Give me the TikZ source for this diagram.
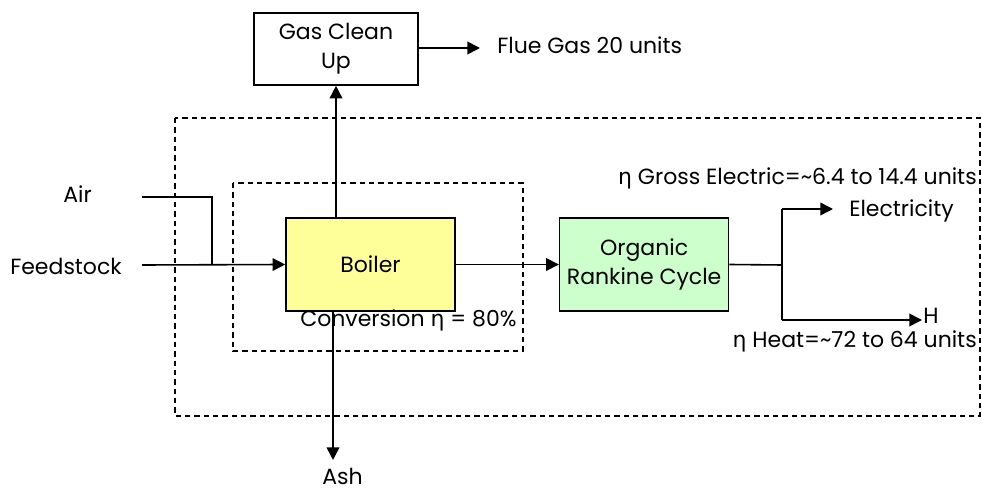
\documentclass[tikz,border=0pt]{standalone}
\usepackage{fontspec}
\setmainfont{Poppins}
\newfontfamily\grk{DejaVu Sans}
\usetikzlibrary{arrows.meta, positioning}

\newcommand{\effsym}{{\grk η}}

\begin{document}
\begin{tikzpicture}[
    x=0.75pt, y=-0.75pt,
    node distance=12pt,
    every node/.style={font=\fontsize{16.5}{22}\selectfont},
    unit/.style={
        draw=black,
        line width=1.2pt,
        align=center,
        minimum width=126.75pt,
        minimum height=69.75pt,
        inner sep=2pt
    },
    lbl/.style={
        inner sep=0pt
    },
    arrow/.style={
        -{Triangle[length=9.5pt,width=9.5pt]},
        line width=1.2pt
    },
    link/.style={
        line width=1.2pt
    },
    region/.style={
        dashed,
        dash pattern=on 4pt off 3pt,
        line width=0.9pt
    }
]
\useasboundingbox (0,0) rectangle (982,491);

% Regions
\draw [region] (175,118) rectangle (980,416);
\draw [region] (233,183) rectangle (523,351);

% Nodes
\node (boiler) [unit, fill={rgb,255:red,255;green,255;blue,153}] at (370.5,264.5) {Boiler};
\node (orc) [unit, fill={rgb,255:red,204;green,255;blue,204}, right=77.25pt of boiler] {Organic\\Rankine Cycle};
\node (gcu) [unit, minimum width=123pt, minimum height=54pt] at (336,49) {Gas Clean\\Up};

\node (air) [lbl, anchor=base west] at (63,203) {Air};
\node (feed) [lbl, anchor=base west] at (10,275) {Feedstock};
\node (ash) [lbl, anchor=base west] at (322,484) {Ash};

\coordinate (airin) at (142,197);
\coordinate (feedin) at (142,265);
\coordinate (merge) at (212,265);
\coordinate (flueend) at (480,48);
\coordinate (split) at (782,265);
\coordinate (elecend) at (833,209);
\coordinate (heatend) at (922,320);
\coordinate (ashend) at (333,460);

\node (flue) [lbl, anchor=base west] at (497,54) {Flue Gas 20 units};
\node (elec) [lbl, anchor=base west] at (849,217) {Electricity};
\node (heat) [lbl, anchor=base west] at (923,324) {H};

\node (gross) [lbl, anchor=base east] at (977,185) {\effsym{} Gross Electric=\textasciitilde6.4 to 14.4 units};
\node (heateff) [lbl, anchor=base east] at (977,348) {\effsym{} Heat=\textasciitilde72 to 64 units};
\node (conv) [lbl, anchor=base west] at (300,327) {Conversion \effsym{} = 80\%};

% Paths
\draw [link] (airin) -| (merge);
\draw [arrow] (feedin) -- (boiler.west);
\draw [arrow] (boiler.north -| gcu) -- (gcu.south);
\draw [arrow] (gcu.east |- flueend) -- (flueend);
\draw [arrow] (boiler.south -| ashend) -- (ashend);
\draw [arrow] (boiler) -- (orc);
\draw [link] (orc.east) -- (split);
\draw [arrow] (split |- elecend) -- (elecend);
\draw [link] (split |- elecend) -- (split |- heatend);
\draw [arrow] (split |- heatend) -- (heatend);

\end{tikzpicture}
\end{document}
